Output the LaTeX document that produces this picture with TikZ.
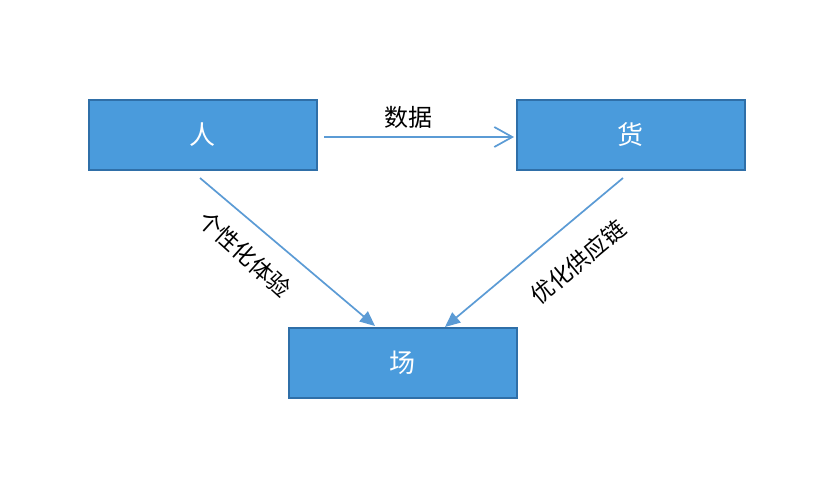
\documentclass[tikz,border=0pt]{standalone}
\usepackage{fontspec}
\setmainfont{Noto Sans CJK SC}
\usetikzlibrary{arrows.meta}
\definecolor{boxfill}{HTML}{4A9BDC}
\definecolor{boxline}{HTML}{2F6FA8}
\definecolor{arrowc}{HTML}{5B9BD5}
\begin{document}
\begin{tikzpicture}[x=1pt,y=-1pt,
  blockbox/.style={draw=boxline,line width=2pt,fill=boxfill,minimum width=228pt,minimum height=70pt,inner sep=0pt,text=white,font=\fontsize{26}{28}\selectfont},
  conn/.style={draw=arrowc,line width=1.7pt},
  lbl/.style={font=\fontsize{23}{26}\selectfont,text=black}]
\useasboundingbox (0,0) rectangle (830,479);
\fill[white] (0,0) rectangle (830,479);
\node[blockbox] (ren) at (202.5,135) {人};
\node[blockbox] (huo) at (630.5,135) {货};
\node[blockbox] (chang) at (402.5,363) {场};
\coordinate (h1) at (324,137);
\coordinate (h2) at (514,137);
\coordinate (l1) at (200,178);
\coordinate (l2) at (375,326);
\coordinate (r1) at (623,178);
\coordinate (r2) at (445,327);
\draw[conn,-{Straight Barb[length=18pt,width=20pt,line width=1.7pt]}] (h1) -- (h2);
\draw[conn,-{Triangle[length=15pt,width=13pt]}] (l1) -- (l2);
\draw[conn,-{Triangle[length=15pt,width=13pt]}] (r1) -- (r2);
\node[lbl,font=\fontsize{24}{26}\selectfont] (t1) at (408,117) {数据};
\node[lbl,rotate=-42] (t2) at (245,254) {个性化体验};
\node[lbl,rotate=40] (t3) at (578,262) {优化供应链};
\end{tikzpicture}
\end{document}
